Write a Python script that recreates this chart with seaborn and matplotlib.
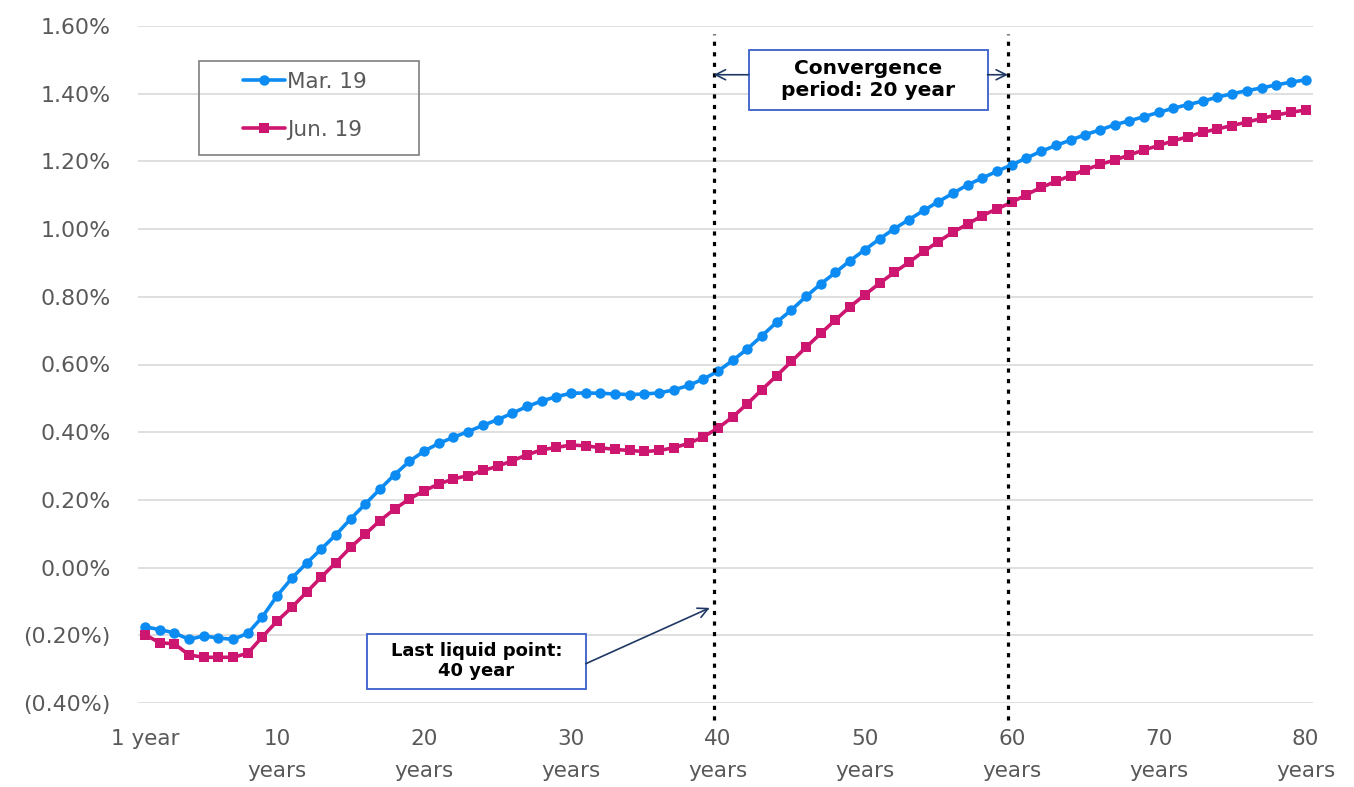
import numpy as np
import pandas as pd
import matplotlib
matplotlib.use("Agg")
import matplotlib.pyplot as plt
from matplotlib.patches import Rectangle
from matplotlib.ticker import FuncFormatter
import seaborn as sns

# Zinskurven (in %) fuer Laufzeiten 1..80 Jahre
years = list(range(1, 81))
mar19 = [-0.175, -0.183, -0.193, -0.212, -0.202, -0.208, -0.212, -0.194, -0.145, -0.083,
         -0.031, 0.013, 0.055, 0.097, 0.144, 0.188, 0.232, 0.275, 0.314, 0.344,
         0.367, 0.385, 0.402, 0.420, 0.437, 0.456, 0.476, 0.492, 0.505, 0.515,
         0.516, 0.515, 0.513, 0.511, 0.513, 0.516, 0.525, 0.538, 0.557, 0.580,
         0.612, 0.646, 0.685, 0.725, 0.761, 0.801, 0.838, 0.872, 0.907, 0.939,
         0.971, 1.001, 1.028, 1.055, 1.081, 1.106, 1.131, 1.151, 1.171, 1.190,
         1.210, 1.230, 1.247, 1.263, 1.279, 1.293, 1.308, 1.320, 1.332, 1.345,
         1.357, 1.368, 1.378, 1.390, 1.400, 1.409, 1.417, 1.426, 1.434, 1.441]
jun19 = [-0.198, -0.222, -0.225, -0.258, -0.265, -0.265, -0.265, -0.253, -0.204, -0.158,
         -0.117, -0.073, -0.028, 0.015, 0.060, 0.099, 0.139, 0.173, 0.203, 0.227,
         0.247, 0.262, 0.272, 0.287, 0.299, 0.316, 0.333, 0.348, 0.355, 0.362,
         0.360, 0.354, 0.349, 0.346, 0.343, 0.346, 0.354, 0.367, 0.386, 0.412,
         0.445, 0.484, 0.526, 0.567, 0.609, 0.651, 0.692, 0.732, 0.771, 0.806,
         0.840, 0.872, 0.902, 0.934, 0.963, 0.991, 1.015, 1.040, 1.060, 1.079,
         1.102, 1.123, 1.141, 1.158, 1.175, 1.191, 1.204, 1.219, 1.234, 1.247,
         1.261, 1.273, 1.286, 1.296, 1.306, 1.316, 1.327, 1.337, 1.345, 1.352]
series_names = ["Mar. 19", "Jun. 19"]
xtick_pos = [1, 10, 20, 30, 40, 50, 60, 70, 80]
xtick_labels = ["1 year", "10\nyears", "20\nyears", "30\nyears", "40\nyears",
                "50\nyears", "60\nyears", "70\nyears", "80\nyears"]
ytick_pos = [-0.4, -0.2, 0.0, 0.2, 0.4, 0.6, 0.8, 1.0, 1.2, 1.4, 1.6]

df = pd.DataFrame({
    "year": years * 2,
    "rate": mar19 + jun19,
    "series": [series_names[0]] * len(years) + [series_names[1]] * len(years),
})

sns.set_style("white")
plt.rcParams["font.family"] = ["DejaVu Sans"]

grey = "#595959"
palette = {"Mar. 19": "#0C8BF2", "Jun. 19": "#CD1670"}

fig = plt.figure(figsize=(13.54, 7.87), dpi=100)
ax = fig.add_axes([137.6 / 1354, (787 - 703) / 787, (1313 - 137.6) / 1354, (703 - 26) / 787])

sns.lineplot(data=df, x="year", y="rate", hue="series", style="series",
             markers=["o", "s"], dashes=False, palette=palette,
             linewidth=2.6, markersize=7.5, markeredgewidth=0, ax=ax, zorder=3)

ax.set_xlim(0.5, 80.5)
ax.set_ylim(-0.4, 1.6)
ax.set_xlabel("")
ax.set_ylabel("")
ax.set_xticks(xtick_pos)
ax.set_xticklabels(xtick_labels)
ax.set_yticks(ytick_pos)
ax.yaxis.set_major_formatter(FuncFormatter(
    lambda v, p: f"{v:.2f}%" if v >= -1e-9 else f"({-v:.2f}%)"))
ax.tick_params(axis="x", length=0, pad=19, labelsize=15.5, labelcolor=grey)
ax.tick_params(axis="y", length=0, pad=19.5, labelsize=15.8, labelcolor=grey)
for t in ax.get_xticklabels():
    t.set_linespacing(1.75)
ax.yaxis.grid(True, color="#d9d9d9", linewidth=1.2)
ax.xaxis.grid(False)
sns.despine(ax=ax, left=True, bottom=True)

# gepunktete Linien (im Original leicht links vom 40- bzw. 60-Jahres-Punkt)
llp_line = 39.71
conv_line = 59.74
for xv in (llp_line, conv_line):
    ax.axvline(xv, ymin=-0.025, ymax=0.988, color="black", linewidth=2.3,
               linestyle=(0, (1.3, 2.0)), clip_on=False, zorder=5)

navy = "#1F3864"
box_edge = "#3A5FCD"

# Box "Convergence period"
ax.add_patch(Rectangle((42.09, 1.353), 58.35 - 42.09, 1.530 - 1.353,
                       facecolor="white", edgecolor=box_edge, linewidth=1.3, zorder=6))
ax.text(50.22, 1.442, "Convergence\nperiod: 20 year", ha="center", va="center",
        fontsize=14.5, fontweight="bold", color="black", zorder=7, linespacing=1.15)
arrow = dict(arrowstyle="->", color=navy, lw=1.2, shrinkA=0, shrinkB=0, mutation_scale=18)
ax.annotate("", xy=(llp_line, 1.456), xytext=(42.09, 1.456), arrowprops=arrow, zorder=6)
ax.annotate("", xy=(conv_line, 1.456), xytext=(58.35, 1.456), arrowprops=arrow, zorder=6)

# Box "Last liquid point"
ax.add_patch(Rectangle((16.10, -0.360), 31.0 - 16.10, 0.165,
                       facecolor="white", edgecolor=box_edge, linewidth=1.3, zorder=6))
ax.text(23.55, -0.277, "Last liquid point:\n40 year", ha="center", va="center",
        fontsize=13, fontweight="bold", color="black", zorder=7, linespacing=1.15)
ax.annotate("", xy=(39.44, -0.119), xytext=(31.0, -0.284), arrowprops=arrow, zorder=6)

# Legende
handles, labels = ax.get_legend_handles_labels()
ax.get_legend().remove()
fig.legend(handles, labels, loc="upper left",
           bbox_to_anchor=(243 / 1354, (787 - 72) / 787), bbox_transform=fig.transFigure,
           frameon=False, borderpad=0, borderaxespad=0, fontsize=15.5,
           handlelength=1.95, handletextpad=0.1, labelspacing=1.29,
           labelcolor=grey)
fig.add_artist(Rectangle((199 / 1354, (787 - 155) / 787), 220 / 1354, 94 / 787,
                         transform=fig.transFigure, fill=False,
                         edgecolor="#7f7f7f", linewidth=1.2))

fig.savefig("out.png", dpi=100)
